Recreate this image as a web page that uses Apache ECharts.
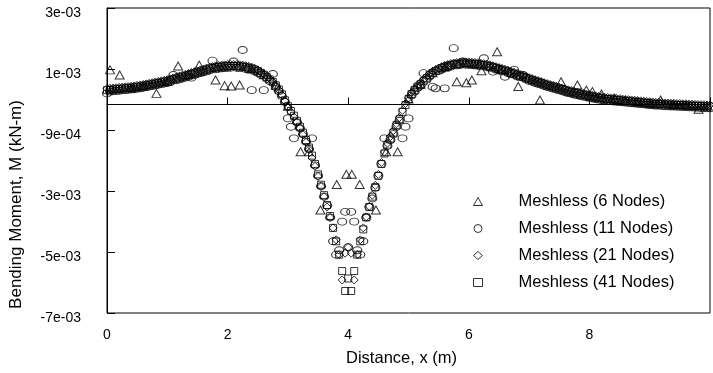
<!DOCTYPE html>
<html>
<head>
<meta charset="utf-8">
<script src="https://cdn.jsdelivr.net/npm/echarts@6/dist/echarts.min.js"></script>
<style>
  html, body { margin: 0; padding: 0; background: #fff; }
  #main { width: 713px; height: 373px; }
</style>
</head>
<body>
<div id="main"></div>
<script>
// values are in 1e-3 kN-m
var xs = [
  0,0.05,0.1,0.15,0.2,0.25,0.3,0.35,0.4,0.45,0.5,0.55,0.6,0.65,0.7,0.75,0.8,0.85,0.9,0.95,
  1,1.05,1.1,1.15,1.2,1.25,1.3,1.35,1.4,1.45,1.5,1.55,1.6,1.65,1.7,1.75,1.8,1.85,1.9,1.95,
  2,2.05,2.1,2.15,2.2,2.25,2.3,2.35,2.4,2.45,2.5,2.55,2.6,2.65,2.7,2.75,2.8,2.85,2.9,2.95,
  3,3.05,3.1,3.15,3.2,3.25,3.3,3.35,3.4,3.45,3.5,3.55,3.6,3.65,3.7,3.75,3.8,3.85,3.9,3.95,
  4,4.05,4.1,4.15,4.2,4.25,4.3,4.35,4.4,4.45,4.5,4.55,4.6,4.65,4.7,4.75,4.8,4.85,4.9,4.95,
  5,5.05,5.1,5.15,5.2,5.25,5.3,5.35,5.4,5.45,5.5,5.55,5.6,5.65,5.7,5.75,5.8,5.85,5.9,5.95,
  6,6.05,6.1,6.15,6.2,6.25,6.3,6.35,6.4,6.45,6.5,6.55,6.6,6.65,6.7,6.75,6.8,6.85,6.9,6.95,
  7,7.05,7.1,7.15,7.2,7.25,7.3,7.35,7.4,7.45,7.5,7.55,7.6,7.65,7.7,7.75,7.8,7.85,7.9,7.95,
  8,8.05,8.1,8.15,8.2,8.25,8.3,8.35,8.4,8.45,8.5,8.55,8.6,8.65,8.7,8.75,8.8,8.85,8.9,8.95,
  9,9.05,9.1,9.15,9.2,9.25,9.3,9.35,9.4,9.45,9.5,9.55,9.6,9.65,9.7,9.75,9.8,9.85,9.9,9.95,
  10
];

var m41 = [
  0.48,0.49,0.50,0.51,0.52,0.53,0.54,0.55,0.56,0.57,0.59,0.60,0.62,0.64,0.66,0.68,0.70,0.72,0.74,0.76,
  0.78,0.81,0.84,0.87,0.90,0.93,0.96,0.99,1.02,1.05,1.08,1.11,1.14,1.17,1.20,1.22,1.24,1.26,1.27,1.28,
  1.29,1.29,1.29,1.29,1.28,1.27,1.25,1.23,1.20,1.17,1.12,1.06,1.00,0.92,0.84,0.75,0.64,0.50,0.34,0.14,
  -0.06,-0.22,-0.38,-0.55,-0.75,-0.95,-1.20,-1.45,-1.72,-2.00,-2.35,-2.70,-3.05,-3.38,-3.75,-4.15,-4.60,-5.05,-5.60,-6.27,
  -5.85,-6.27,-5.60,-5.05,-4.60,-4.20,-3.80,-3.45,-3.10,-2.78,-2.40,-2.00,-1.65,-1.35,-1.15,-0.95,-0.70,-0.50,-0.25,-0.02,
  0.18,0.35,0.48,0.60,0.68,0.78,0.88,0.99,1.06,1.12,1.17,1.22,1.26,1.29,1.32,1.34,1.36,1.37,1.38,1.38,
  1.38,1.37,1.36,1.35,1.33,1.32,1.30,1.28,1.25,1.22,1.19,1.16,1.13,1.10,1.06,1.03,0.99,0.96,0.92,0.89,
  0.85,0.82,0.78,0.75,0.72,0.68,0.65,0.62,0.59,0.56,0.53,0.50,0.47,0.44,0.42,0.39,0.37,0.34,0.32,0.30,
  0.28,0.26,0.24,0.22,0.21,0.19,0.18,0.17,0.16,0.15,0.14,0.13,0.12,0.11,0.10,0.09,0.08,0.07,0.06,0.05,
  0.04,0.03,0.02,0.02,0.01,0.00,0.00,-0.01,-0.01,-0.02,-0.02,-0.03,-0.03,-0.04,-0.04,-0.05,-0.05,-0.06,-0.06,-0.07,
  -0.07
];

var m21 = [
  0.53,0.54,0.55,0.56,0.57,0.58,0.59,0.60,0.61,0.62,0.64,0.65,0.67,0.69,0.71,0.73,0.75,0.77,0.79,0.81,
  0.83,0.86,0.89,0.92,0.95,0.98,1.01,1.04,1.07,1.10,1.13,1.16,1.19,1.22,1.25,1.27,1.29,1.31,1.32,1.33,
  1.34,1.34,1.34,1.34,1.33,1.32,1.30,1.28,1.25,1.21,1.16,1.10,1.03,0.95,0.86,0.76,0.64,0.49,0.32,0.12,
  -0.08,-0.25,-0.42,-0.60,-0.80,-1.02,-1.27,-1.52,-1.80,-2.08,-2.42,-2.76,-3.10,-3.45,-3.80,-4.15,-4.55,-5.05,-5.90,-5.00,
  -4.80,-5.00,-5.90,-5.05,-4.55,-4.15,-3.78,-3.42,-3.05,-2.72,-2.35,-1.95,-1.60,-1.30,-1.08,-0.88,-0.65,-0.44,-0.20,0.03,
  0.22,0.40,0.53,0.65,0.74,0.84,0.94,1.04,1.11,1.17,1.22,1.27,1.31,1.34,1.37,1.39,1.41,1.42,1.43,1.43,
  1.43,1.42,1.41,1.40,1.38,1.37,1.35,1.33,1.30,1.27,1.24,1.21,1.18,1.15,1.11,1.08,1.04,1.01,0.97,0.94,
  0.90,0.87,0.83,0.80,0.77,0.73,0.70,0.67,0.64,0.61,0.58,0.55,0.52,0.49,0.47,0.44,0.42,0.39,0.37,0.35,
  0.33,0.31,0.29,0.27,0.26,0.24,0.23,0.22,0.21,0.20,0.19,0.18,0.17,0.16,0.15,0.14,0.13,0.12,0.11,0.10,
  0.09,0.08,0.07,0.07,0.06,0.05,0.05,0.04,0.04,0.03,0.03,0.02,0.02,0.01,0.01,0.00,0.00,-0.01,-0.01,-0.02,
  -0.02
];

var m11 = [
  0.37,0.43,0.44,0.45,0.46,0.47,0.48,0.49,0.50,0.51,0.53,0.54,0.56,0.58,0.60,0.62,0.64,0.66,0.68,0.70,
  0.72,0.75,0.99,0.81,0.84,0.87,0.90,0.93,0.90,0.99,1.02,1.05,1.08,1.11,1.14,1.47,1.18,1.20,1.21,1.22,
  1.23,1.23,1.44,1.23,1.22,1.83,1.19,1.17,0.48,1.11,1.06,1.00,0.48,0.86,0.78,1.02,0.58,0.44,0.28,0.08,
  -0.47,-0.75,-1.14,-0.60,-0.80,-1.00,-1.25,-1.50,-1.14,-2.05,-2.40,-2.75,-3.10,-3.40,-3.80,-4.60,-5.05,-4.90,-3.94,-3.61,
  -4.80,-3.61,-3.94,-4.90,-5.05,-4.60,-3.80,-3.45,-3.16,-2.80,-2.40,-2.00,-1.14,-1.40,-1.20,-1.00,-0.75,-0.55,-1.14,-0.75,
  -0.47,0.30,0.43,0.55,0.63,1.05,0.83,0.94,0.59,0.54,1.12,1.17,0.54,1.24,1.27,1.89,1.31,1.32,1.44,1.33,
  1.33,1.32,1.31,1.30,1.28,1.55,1.25,1.23,1.10,1.17,1.14,1.11,0.93,1.05,1.01,1.16,0.94,0.91,0.99,0.84,
  0.79,0.76,0.72,0.69,0.66,0.62,0.59,0.56,0.53,0.50,0.47,0.44,0.41,0.38,0.36,0.33,0.31,0.28,0.26,0.24,
  0.22,0.20,0.18,0.16,0.15,0.13,0.12,0.11,0.10,0.09,0.08,0.07,0.06,0.05,0.04,0.03,0.02,0.01,0.00,-0.01,
  -0.02,-0.03,-0.04,-0.04,-0.05,-0.06,-0.06,-0.07,-0.07,-0.08,-0.08,-0.09,-0.09,-0.10,-0.10,-0.11,-0.11,-0.12,-0.12,-0.13,
  -0.13
];

// 6 nodes: its own, sparser points
var triX = [0.05,0.21,0.40,0.60,0.82,1.00,1.18,1.35,1.53,1.80,1.95,2.06,2.20,2.40,2.60,2.80,3.00,
  3.21,3.35,3.54,3.81,3.97,4.06,4.19,4.46,4.63,4.82,5.00,5.20,5.40,5.60,5.80,5.96,6.05,6.21,6.47,
  6.82,7.18,7.53,7.80,7.95,8.05,8.20,8.42,8.60,8.80,9.00,9.18,9.40,9.60,9.81];
var triV = [1.16,0.99,0.56,0.62,0.37,0.78,1.29,1.00,1.32,0.82,0.63,0.62,0.65,1.20,1.00,0.64,-0.06,
  -1.59,-1.59,-3.55,-2.69,-2.35,-2.35,-2.69,-3.55,-1.59,-1.59,0.18,0.68,1.06,1.26,0.76,0.73,0.82,1.13,1.77,
  0.60,0.15,0.76,0.65,0.48,0.43,0.35,0.21,0.12,0.08,0.04,0.15,-0.01,-0.03,-0.16];

var seriesNames = ['Meshless (6 Nodes)', 'Meshless (11 Nodes)', 'Meshless (21 Nodes)', 'Meshless (41 Nodes)'];

var yTickVals = [-7.01, -4.96, -2.91, -0.86, 1.19, 3.24];
var yTickLabels = ['-7e-03', '-5e-03', '-3e-03', '-9e-04', '1e-03', '3e-03'];
var xTickLabels = ['0', '2', '4', '6', '8'];

function pairs(x, v) {
  return x.map(function (xx, i) { return [xx, v[i]]; });
}

var font = 'Liberation Sans, Arial, sans-serif';
var hollow = { color: 'rgba(0,0,0,0)', borderColor: '#000', borderWidth: 1 };

var option = {
  backgroundColor: '#fff',
  animation: false,
  grid: { left: 107, right: -6, top: 8, bottom: 60, show: true, borderColor: '#000', borderWidth: 1 },
  legend: {
    orient: 'vertical',
    left: 468,
    top: 187,
    itemWidth: 9,
    itemHeight: 8,
    itemGap: 8,
    data: seriesNames,
    itemStyle: { color: 'rgba(0,0,0,0)', borderColor: '#000', borderWidth: 1 },
    textStyle: { fontFamily: font, fontSize: 16.5, color: '#000', padding: [0, 0, 0, 31], lineHeight: 19 }
  },
  xAxis: {
    type: 'value',
    min: 0,
    max: 10,
    interval: 2,
    name: 'Distance, x (m)',
    nameLocation: 'middle',
    nameGap: 37,
    nameTextStyle: { fontFamily: font, fontSize: 16.5, color: '#000', padding: [0, 14, 0, 0] },
    axisLine: { lineStyle: { color: '#000', width: 1 } },
    axisTick: { inside: true, length: 7, lineStyle: { color: '#000' } },
    axisLabel: {
      fontFamily: font, fontSize: 14, color: '#000', margin: 15,
      formatter: function (v) { return xTickLabels[v / 2] || ''; }
    },
    splitLine: { show: false }
  },
  yAxis: {
    type: 'value',
    min: -7.01,
    max: 3.24,
    name: 'Bending Moment, M (kN-m)',
    nameLocation: 'middle',
    nameRotate: 90,
    nameGap: 82,
    nameTextStyle: { fontFamily: font, fontSize: 17, color: '#000', padding: [0, 88, 0, 0] },
    axisLine: { lineStyle: { color: '#000', width: 1 } },
    axisTick: { inside: true, length: 8, customValues: yTickVals, lineStyle: { color: '#000' } },
    axisLabel: {
      fontFamily: font, fontSize: 14, color: '#000', margin: 26,
      verticalAlign: 'top', lineHeight: 11,
      customValues: yTickVals,
      formatter: function (v) {
        var best = 0;
        for (var i = 1; i < yTickVals.length; i++) {
          if (Math.abs(yTickVals[i] - v) < Math.abs(yTickVals[best] - v)) best = i;
        }
        return yTickLabels[best];
      }
    },
    splitLine: { show: false }
  },
  series: [
    {
      name: seriesNames[0], type: 'scatter', symbol: 'triangle', symbolSize: [9, 8],
      itemStyle: hollow, data: pairs(triX, triV),
      markLine: {
        silent: true, symbol: 'none', label: { show: false },
        lineStyle: { color: '#000', width: 1, type: 'solid' },
        data: [{ yAxis: 0 }]
      }
    },
    { name: seriesNames[1], type: 'scatter', symbol: 'circle', symbolSize: [9, 7], itemStyle: hollow, data: pairs(xs, m11) },
    { name: seriesNames[2], type: 'scatter', symbol: 'diamond', symbolSize: [8, 8], itemStyle: hollow, data: pairs(xs, m21) },
    { name: seriesNames[3], type: 'scatter', symbol: 'rect', symbolSize: [7, 7], itemStyle: hollow, data: pairs(xs, m41) }
  ]
};

var myChart = echarts.init(document.getElementById('main'));
myChart.setOption(option);
</script>
</body>
</html>
